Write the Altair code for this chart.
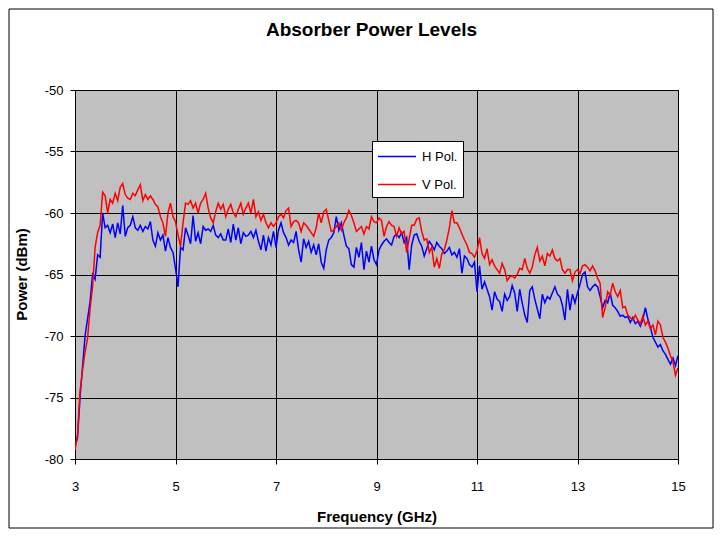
import altair as alt
import pandas as pd

# Frequency grid (GHz) and series values (dBm)
freq_start = 3.0
freq_step = 0.05

h_pol = [
    -78.9, -78.3, -75.0, -72.5, -70.0, -68.6, -67.2, -65.0, -65.4, -63.4,
    -63.6, -60.0, -61.2, -61.0, -61.6, -60.9, -62.0, -60.8, -61.7, -59.4,
    -61.9, -61.2, -61.0, -60.3, -61.2, -61.4, -61.0, -61.5, -61.1, -61.3,
    -60.7, -62.2, -62.7, -61.6, -62.2, -61.8, -63.1, -62.0, -62.8, -63.2,
    -64.5, -66.0, -62.8, -63.0, -61.2, -61.8, -62.5, -60.2, -62.3, -61.6,
    -62.5, -61.1, -61.4, -61.3, -61.5, -61.0, -61.8, -62.0, -61.7, -62.2,
    -62.2, -61.3, -62.4, -60.9, -62.2, -61.2, -62.5, -61.6, -61.9, -61.8,
    -61.5, -62.0, -61.4, -62.3, -63.0, -61.8, -63.1, -62.0, -62.6, -61.5,
    -62.8, -61.4, -60.8, -61.6, -62.0, -62.6, -62.2, -62.4, -61.5, -63.0,
    -64.0, -62.1, -62.8, -62.3, -63.2, -62.6, -63.4, -62.5, -64.0, -64.5,
    -63.0, -62.2, -62.0, -61.6, -60.3, -61.4, -60.8, -61.8, -62.7, -62.9,
    -64.2, -64.4, -62.8, -63.6, -62.4, -64.6, -63.1, -64.0, -62.7, -63.8,
    -64.2, -63.0, -62.6, -62.3, -62.1, -62.4, -62.6, -61.9, -61.7, -62.0,
    -61.6, -62.4, -62.0, -64.6, -62.6, -61.8, -61.7, -62.3, -62.7, -63.5,
    -62.9, -62.3, -62.6, -63.0, -62.4, -62.7, -62.9, -63.3, -63.1, -62.8,
    -63.4, -63.2, -63.6, -62.9, -64.9, -63.5, -63.7, -64.2, -64.4, -64.0,
    -66.4, -64.3, -66.2, -65.6, -66.2, -66.8, -67.9, -66.4, -67.0, -67.2,
    -68.0, -66.6, -67.1, -66.8, -65.9, -66.5, -68.0, -66.2, -67.3, -68.3,
    -68.9, -66.3, -66.0, -67.0, -67.8, -68.6, -66.6, -67.3, -66.8, -67.0,
    -66.5, -66.0, -66.6, -66.8, -67.5, -68.7, -66.2, -67.9, -66.6, -67.3,
    -66.5, -65.8, -65.0, -64.8, -66.0, -66.3, -66.0, -65.8, -66.0, -66.8,
    -67.7, -67.1, -67.3, -66.5, -67.5, -67.7, -68.0, -68.4, -68.3, -68.5,
    -68.4, -68.9, -68.5, -69.0, -68.8, -69.2, -68.7, -67.7, -68.6, -69.3,
    -70.1, -70.5, -70.9, -70.7, -71.2, -71.5, -71.9, -72.3, -71.8, -72.4,
    -71.6,
]

v_pol = [
    -79.3, -78.0, -74.5, -72.8, -71.3, -70.2, -67.8, -66.0, -62.8, -61.6,
    -61.0, -58.3, -58.6, -60.0, -58.9, -59.2, -58.4, -59.0, -57.9, -57.6,
    -58.5, -58.8, -58.9, -58.4, -58.6, -58.1, -57.7, -59.0, -58.5, -58.9,
    -58.6, -58.9, -59.3, -59.5, -60.3, -60.8, -61.9, -60.0, -59.2, -60.3,
    -60.7, -61.8, -62.7, -60.8, -59.2, -59.3, -59.0, -59.6, -59.2, -60.0,
    -59.2, -58.9, -58.4, -59.6, -60.4, -60.8, -59.9, -59.2, -59.7, -59.3,
    -60.3, -59.7, -59.3, -60.0, -60.3, -59.7, -59.2, -60.1, -59.6, -59.2,
    -60.0, -58.9, -60.3, -59.9, -60.6, -60.1, -60.8, -61.2, -60.8, -61.1,
    -60.8, -60.3, -60.1, -60.4, -59.8, -59.6, -61.1, -60.7, -60.6, -60.8,
    -61.5, -60.8, -61.0, -61.3, -61.6, -61.9, -61.2, -60.0, -60.8, -59.9,
    -59.7, -60.6, -61.5, -61.4, -61.1, -60.8, -61.4, -60.8, -60.4, -59.8,
    -60.2, -60.8, -61.5, -61.3, -61.1, -61.7, -61.1, -61.3, -60.3, -60.7,
    -60.8, -60.4, -60.6, -61.9, -61.1, -60.7, -61.0, -61.1, -61.9, -61.2,
    -61.7, -61.5, -63.2, -62.1, -61.0, -61.0, -60.5, -60.4, -61.5, -62.2,
    -62.1, -63.2, -62.8, -64.4, -63.7, -64.5, -63.3, -63.0, -62.2, -61.2,
    -59.8, -60.8, -60.8, -61.2, -61.7, -62.2, -62.6, -63.2, -63.3, -63.6,
    -63.1, -62.0, -63.3, -63.7, -62.9, -64.2, -63.8, -64.3, -64.6, -64.9,
    -64.1, -64.6, -65.5, -65.2, -65.1, -65.3, -65.0, -64.5, -64.6, -63.7,
    -64.5, -64.9, -64.4, -63.4, -62.8, -63.9, -63.5, -64.3, -63.3, -63.5,
    -63.0, -63.7, -63.9, -63.7, -64.6, -64.9, -64.6, -64.6, -65.5, -64.8,
    -64.6, -64.9, -64.3, -64.2, -64.4, -64.7, -64.3, -64.7, -65.3, -65.7,
    -68.5, -67.7, -66.4, -66.7, -65.7, -66.4, -66.8, -66.3, -67.7, -67.6,
    -68.3, -68.5, -68.7, -68.3, -68.7, -69.0, -68.4, -69.1, -68.8, -69.4,
    -69.1, -69.9, -68.8, -69.1, -70.1, -70.5, -71.0, -71.6, -72.1, -73.2,
    -72.6,
]

series_names = ["H Pol.", "V Pol."]
series_colors = ["#0000FF", "#FF0000"]
x_ticks = [3, 5, 7, 9, 11, 13, 15]
y_ticks = [-80, -75, -70, -65, -60, -55, -50]

freq = [round(freq_start + freq_step * i, 2) for i in range(len(h_pol))]

df = pd.DataFrame({
    "freq": freq + freq,
    "power": h_pol + v_pol,
    "series": [series_names[0]] * len(h_pol) + [series_names[1]] * len(v_pol),
})

FONT = "Liberation Sans"

border = alt.Chart(alt.Data(values=[{}])).mark_rect(
    fillOpacity=0, stroke="black", strokeWidth=1
).encode(
    x=alt.value(-66), x2=alt.value(638), y=alt.value(-81), y2=alt.value(438)
)

lines = alt.Chart(df).mark_line(strokeWidth=1.5, clip=True).encode(
    x=alt.X(
        "freq:Q",
        scale=alt.Scale(domain=[3, 15], nice=False, zero=False),
        axis=alt.Axis(
            values=x_ticks, title="Frequency (GHz)", grid=True,
            labelExpr="'' + datum.value", labelPadding=16, tickSize=5,
            labelFlush=False, titleY=50,
        ),
    ),
    y=alt.Y(
        "power:Q",
        scale=alt.Scale(domain=[-80, -50], nice=False, zero=False),
        axis=alt.Axis(
            values=y_ticks, title="Power (dBm)", grid=True,
            labelExpr="'' + datum.value", labelPadding=7, tickSize=5,
            labelFlush=False, titleX=-46, titleY=184,
        ),
    ),
    color=alt.Color(
        "series:N",
        scale=alt.Scale(domain=series_names, range=series_colors),
        legend=alt.Legend(
            title=None, orient="none", legendX=297, legendY=51,
            fillColor="white", strokeColor="black", padding=5,
            symbolType="M-1,0L3,0", symbolSize=361, symbolStrokeWidth=1.5,
            labelFontSize=13, labelFont=FONT, labelColor="black",
            rowPadding=10, labelOffset=24,
        ),
    ),
    order=alt.Order("series:N"),
)

chart = alt.layer(border, lines).properties(
    width=603,
    height=369,
    padding={"left": 67, "top": 82, "right": 36, "bottom": 70},
    autosize=alt.AutoSizeParams(type="none"),
    title=alt.TitleParams(
        "Absorber Power Levels", font=FONT, fontSize=19, fontWeight="bold",
        anchor="middle", offset=-31, color="black", dx=-5,
    ),
).configure_view(
    fill="#C0C0C0", stroke="black",
).configure_axis(
    labelFont=FONT, labelFontSize=13, labelColor="black",
    titleFont=FONT, titleFontSize=15, titleFontWeight="bold", titleColor="black",
    gridColor="black", gridOpacity=1, gridWidth=1,
    domainColor="black", tickColor="black", domainWidth=1,
)

chart.save("out.html", embed_options={"renderer": "svg", "actions": False})
